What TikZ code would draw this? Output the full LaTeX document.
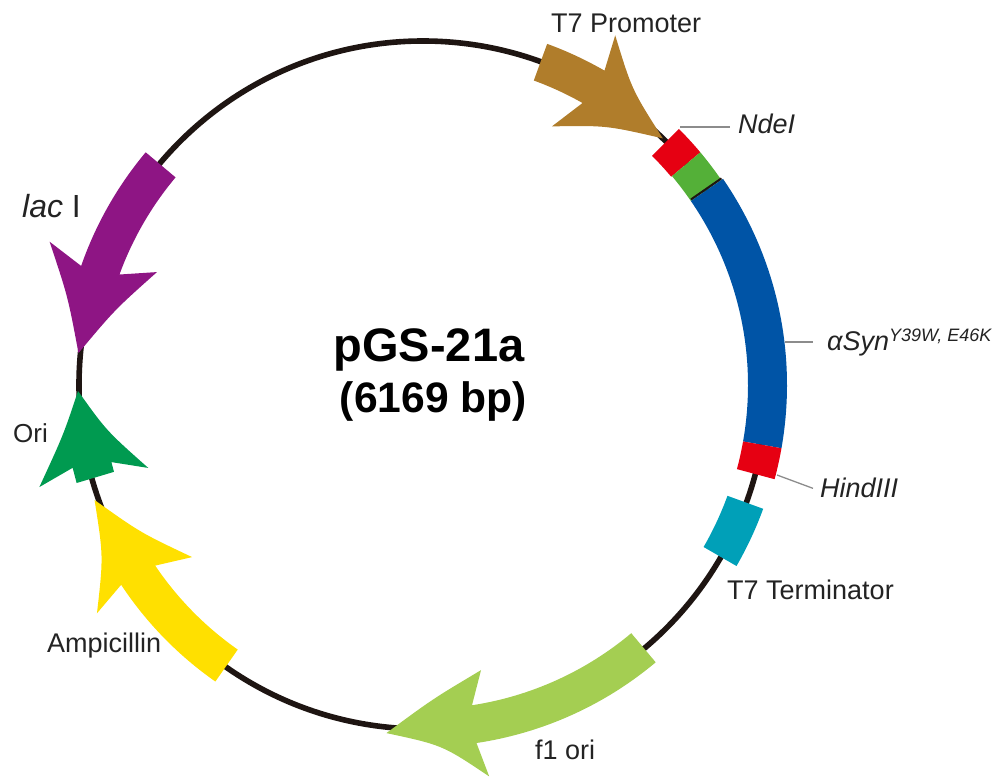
\documentclass[tikz,border=0pt]{standalone}
\usepackage{fontspec}
\setmainfont{Liberation Sans}
\usepackage{xcolor}
\usetikzlibrary{positioning}
\definecolor{plasmidblack}{RGB}{30,21,18}
\definecolor{t7brown}{RGB}{176,125,43}
\definecolor{siteblue}{RGB}{0,84,166}
\definecolor{sitered}{RGB}{230,0,18}
\definecolor{sitegreen}{RGB}{84,176,56}
\definecolor{termteal}{RGB}{0,160,184}
\definecolor{f1green}{RGB}{164,206,82}
\definecolor{ampyellow}{RGB}{255,224,0}
\definecolor{origreen}{RGB}{0,154,80}
\definecolor{lacpurple}{RGB}{142,21,132}
\definecolor{leadergray}{RGB}{140,140,140}
\definecolor{labelgray}{RGB}{35,35,35}
\tikzset{
  backbone/.style={draw=plasmidblack, line width=5.6pt},
  leader/.style={draw=leadergray, line width=1.3pt},
  feature/.style={draw=none},
  label/.style={anchor=base west, inner sep=0pt, text=labelgray, font=\fontsize{27}{30}\selectfont},
  sitelabel/.style={label, font=\fontsize{27}{30}\selectfont\itshape},
  title/.style={anchor=base, inner sep=0pt, text=black, font=\bfseries}
}

\begin{document}
\begin{tikzpicture}[x=1pt, y=1pt]
\useasboundingbox (-423,-393) rectangle (572,385);

% Backbone
\draw[backbone] (0,0) circle[radius=344pt];

% T7 promoter
\fill[feature, t7brown] (70:363pt) arc[start angle=70, end angle=60, radius=363pt] -- (61.2:399pt)
  .. controls (54.7:361.6pt) .. (45.8:344pt) .. controls (54.7:318pt) .. (63.5:289pt)
  -- (60.5:324pt) arc[start angle=60.5, end angle=70, radius=324pt] -- cycle;

% Insert
\fill[feature, sitered] (45:362pt) arc[start angle=45, end angle=40, radius=362pt] -- (40:324pt) arc[start angle=40, end angle=45, radius=324pt] -- cycle;
\fill[feature, sitegreen] (40:362pt) arc[start angle=40, end angle=34.5, radius=362pt] -- (34.5:325pt) arc[start angle=34.5, end angle=40, radius=325pt] -- cycle;
\fill[feature, siteblue] (34.5:364pt) arc[start angle=34.5, end angle=-10, radius=364pt] -- (-10:325pt) arc[start angle=-10, end angle=34.5, radius=325pt] -- cycle;
\draw[plasmidblack, line width=2pt] (34.7:326pt) -- (34.7:363pt);
\fill[feature, sitered] (-10:364pt) arc[start angle=-10, end angle=-15, radius=364pt] -- (-15:325pt) arc[start angle=-15, end angle=-10, radius=325pt] -- cycle;

% T7 terminator
\fill[feature, termteal] (-20:362pt) arc[start angle=-20, end angle=-30, radius=362pt] -- (-30:324pt) arc[start angle=-30, end angle=-20, radius=324pt] -- cycle;

% f1 ori
\fill[feature, f1green] (310:362pt) arc[start angle=310, end angle=278.5, radius=362pt] -- (279.6:397pt)
  .. controls (273.1:360.7pt) .. (264:350pt) .. controls (271.8:314pt) .. (281.5:291pt)
  -- (278.7:324pt) arc[start angle=278.7, end angle=310, radius=324pt] -- cycle;

% Ampicillin
\fill[feature, ampyellow] (235:362pt) arc[start angle=235, end angle=213.5, radius=362pt] -- (215:398pt)
  .. controls (208.2:362.6pt) .. (199.3:348pt) .. controls (207.6:318.8pt) .. (216.7:288pt)
  -- (214:323pt) arc[start angle=214, end angle=235, radius=323pt] -- cycle;

% Ori
\fill[feature, origreen] (181:345pt) .. controls (187.9:363pt) .. (194.9:397pt)
  -- (193.3:360pt) -- (195.8:360pt) -- (195.7:321pt) -- (193.9:321pt) -- (196.8:287pt)
  .. controls (188.2:320pt) .. cycle;

% lac I
\fill[feature, lacpurple] (140:362pt) arc[start angle=140, end angle=160.8, radius=362pt] -- (159:400pt)
  .. controls (166:366pt) .. (174.7:346pt) .. controls (166.3:317.4pt) .. (157:289pt)
  -- (160:323pt) arc[start angle=160, end angle=140, radius=323pt] -- cycle;

% Labels
\node[label] (t7prom) at (128,352) {T7 Promoter};
\node[sitelabel] (ndei) at (315,251) {NdeI};
\node[sitelabel] (asyn) at (404,34) {αSyn\raisebox{9pt}{\fontsize{18}{20}\selectfont Y39W, E46K}};
\node[sitelabel] (hindiii) at (397,-113) {HindIII};
\node[label] (t7term) at (304,-214) {T7 Terminator};
\node[label] (f1ori) at (112,-374) {f1 ori};
\node[label] (amp) at (-376,-267) {Ampicillin};
\node[label, font=\fontsize{26}{30}\selectfont] (ori) at (-410,-58) {Ori};
\node[label, font=\fontsize{32}{36}\selectfont] (laci) at (-401,167) {\textit{lac} I};
\node[title, font=\fontsize{47}{50}\selectfont\bfseries] (name) at (6,23) {pGS-21a};
\node[title, font=\fontsize{42.6}{46}\selectfont\bfseries] (size) at (10.5,-28) {(6169 bp)};

% Leaders
\coordinate (nditick) at (257,258);
\coordinate (asyntick) at (362,43);
\coordinate (hindtick) at (354,-90);
\draw[leader] (nditick) -- ([xshift=-8pt]ndei.west |- nditick);
\draw[leader] (asyntick) -- ([xshift=-14pt]asyn.west |- asyntick);
\draw[leader] (hindtick) -- ([xshift=-7pt]hindiii.west);

\end{tikzpicture}
\end{document}
